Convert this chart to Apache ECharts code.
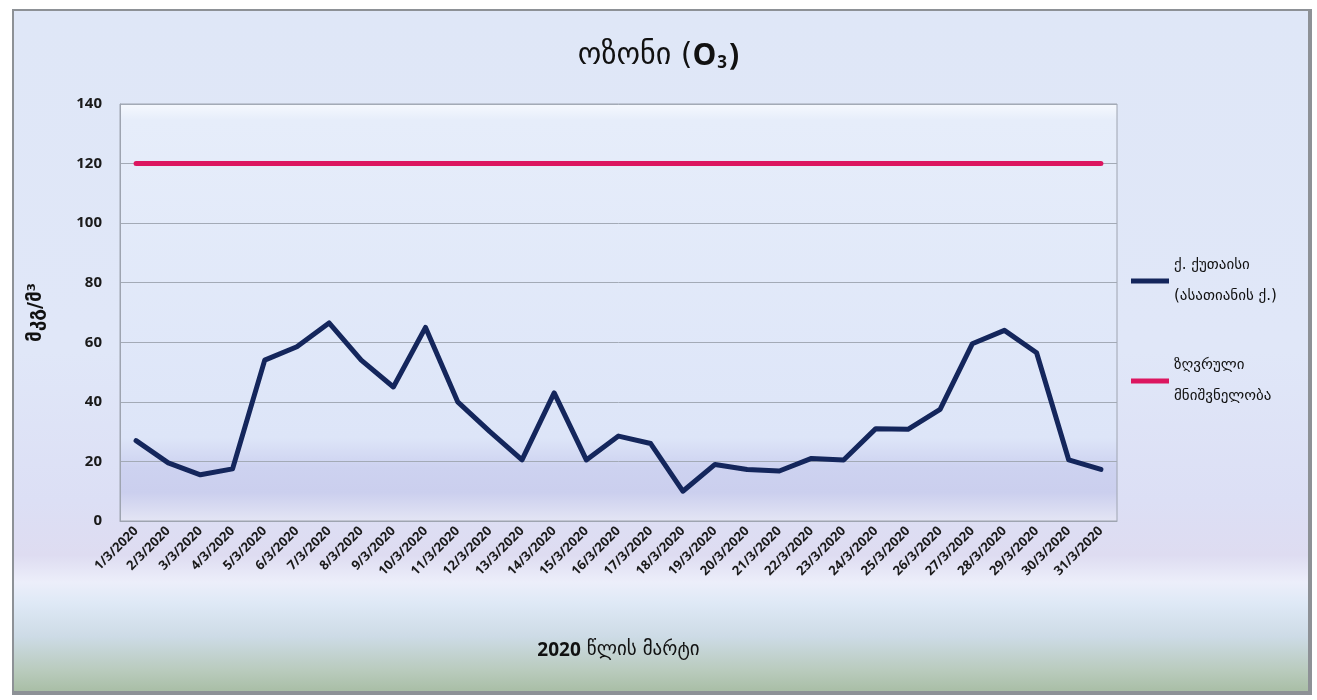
<!DOCTYPE html>
<html>
<head>
<meta charset="utf-8">
<script src="https://cdn.jsdelivr.net/npm/echarts@6/dist/echarts.min.js"></script>
<style>
  html, body { margin: 0; padding: 0; background: #fff; }
  #frame {
    position: absolute; left: 12px; top: 9px; width: 1294px; height: 680px;
    border: 2px solid #8d9196; border-bottom-width: 4px; border-right-width: 4px;
    background: linear-gradient(to bottom,
      #dfe7f7 0%, #e0e7f8 50%, #dcdff5 72%, #dedcf1 80%,
      #eceefa 84%, #dfe9f6 87%, #cddbe6 92%, #b9cbbd 97%, #a9bea6 100%);
  }
  #main { position: absolute; left: 0; top: 0; width: 1317px; height: 700px; }
</style>
</head>
<body>
<div id="frame"></div>
<div id="main"></div>
<script>
// days of March 2020
const days = [];
for (let d = 1; d <= 31; d++) days.push(d + '/3/2020');

// ozone, Kutaisi (µg/m³)
const kutaisi = [27, 19.5, 15.5, 17.5, 54, 58.5, 66.5, 54, 45, 65,
  40, 30, 20.5, 43, 20.5, 28.5, 26, 10, 19, 17.3,
  16.8, 21, 20.5, 31, 30.8, 37.5, 59.5, 64, 56.5, 20.5, 17.3];

// limit value
const limitVal = [];
for (let i = 0; i < days.length; i++) limitVal.push(120);

const yTicks = { min: 0, max: 140, interval: 20 };

const labelFont = 'Open Sans';

const chart = echarts.init(document.getElementById('main'));
chart.setOption({
  backgroundColor: 'transparent',
  animation: false,
  title: {
    text: 'ოზონი ({o|O}{sub|3}{o|)}',
    left: 'center',
    top: 36,
    textStyle: {
      fontFamily: 'DejaVu Sans',
      fontSize: 30,
      fontWeight: 'normal',
      color: '#111',
      rich: {
        o: { fontFamily: 'Open Sans', fontSize: 30, fontWeight: 'bold', color: '#111' },
        sub: { fontFamily: 'Open Sans', fontSize: 17, fontWeight: 'bold', verticalAlign: 'bottom', padding: [14, 2, 0, 1], color: '#111' }
      }
    }
  },
  legend: {
    orient: 'vertical',
    left: 1126,
    top: 245,
    itemWidth: 38,
    itemHeight: 5,
    itemGap: 38,
    icon: 'rect',
    textStyle: { fontFamily: 'DejaVu Sans', fontSize: 15, color: '#111', lineHeight: 31 },
    data: ['ქ. ქუთაისი\n(ასათიანის ქ.)', 'ზღვრული\nმნიშვნელობა']
  },
  grid: {
    left: 120, right: 200, top: 104, bottom: 179,
    show: true,
    borderColor: '#9ea4b0',
    borderWidth: 1,
    backgroundColor: {
      type: 'linear', x: 0, y: 0, x2: 0, y2: 1,
      colorStops: [
        { offset: 0, color: '#f6f9fe' },
        { offset: 0.04, color: '#e6edfa' },
        { offset: 0.8, color: '#dde5f8' },
        { offset: 0.87, color: '#cdd2f0' },
        { offset: 0.93, color: '#cbcfee' },
        { offset: 1, color: '#e4e5f4' }
      ]
    }
  },
  xAxis: {
    type: 'category',
    data: days,
    name: '{b|2020} წლის მარტი',
    nameLocation: 'middle',
    nameGap: 120,
    nameTextStyle: {
      fontFamily: 'DejaVu Sans', fontSize: 19, color: '#111',
      rich: { b: { fontFamily: labelFont, fontSize: 19, fontWeight: 'bold', color: '#111' } }
    },
    axisLine: { lineStyle: { color: '#9ea4b0' } },
    axisTick: { show: false },
    axisLabel: {
      rotate: 45, margin: 8, interval: 0,
      fontFamily: labelFont, fontWeight: 'bold', fontSize: 13, color: '#1a1a1a'
    }
  },
  yAxis: {
    type: 'value',
    min: yTicks.min, max: yTicks.max, interval: yTicks.interval,
    name: 'მკგ/მ³',
    nameLocation: 'middle',
    nameGap: 74,
    nameRotate: 90,
    nameTextStyle: { fontFamily: 'DejaVu Sans', fontSize: 19, fontWeight: 'bold', color: '#111' },
    axisLine: { show: true, lineStyle: { color: '#9ea4b0' } },
    axisTick: { show: false },
    axisLabel: {
      margin: 18,
      fontFamily: labelFont, fontWeight: 'bold', fontSize: 15, color: '#1a1a1a'
    },
    splitLine: { lineStyle: { color: '#a3aab6', width: 1 } }
  },
  series: [
    {
      name: 'ქ. ქუთაისი\n(ასათიანის ქ.)',
      type: 'line',
      data: kutaisi,
      symbol: 'none',
      color: '#14265c',
      lineStyle: { width: 5, color: '#14265c', join: 'round', cap: 'round' }
    },
    {
      name: 'ზღვრული\nმნიშვნელობა',
      type: 'line',
      data: limitVal,
      symbol: 'none',
      color: '#dc1660',
      lineStyle: { width: 5, color: '#dc1660', cap: 'round' }
    }
  ]
});
</script>
</body>
</html>
